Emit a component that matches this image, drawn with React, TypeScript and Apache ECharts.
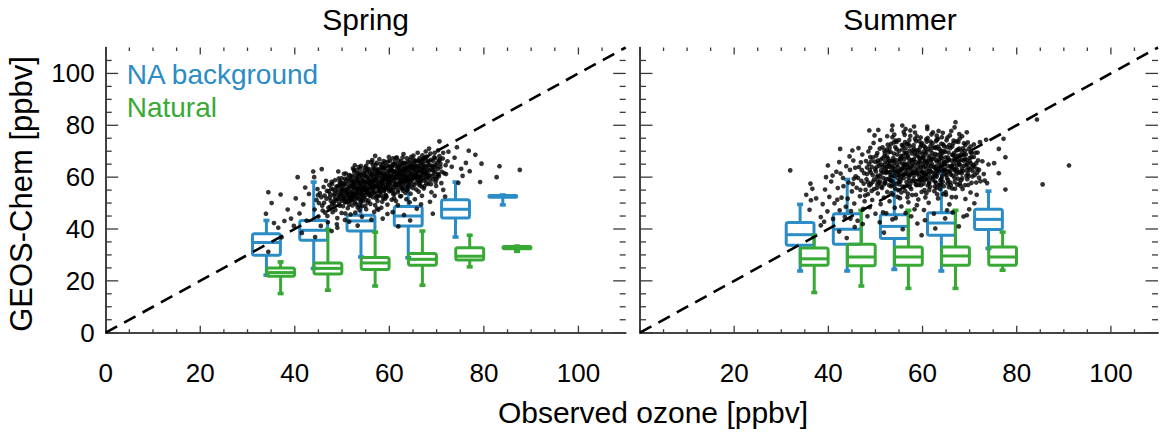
import React, { useEffect, useRef } from "react";
import * as echarts from "echarts";

const FONT = "'Liberation Sans', Arial, Helvetica, sans-serif";
const BLUE = "#2b8cc6";
const GREEN = "#39a935";
const AXIS_COLOR = "#3a3a3a";

const panelTitles = ["Spring", "Summer"];
const legendLabels = ["NA background", "Natural"];
const xAxisTitle = "Observed ozone [ppbv]";
const yAxisTitle = "GEOS-Chem [ppbv]";
const axisMin = 0;
const axisMax = 110;
const majorStep = 20;
const majorTicks = [0, 20, 40, 60, 80, 100];
const minorTicks = [5, 10, 15, 25, 30, 35, 45, 50, 55, 65, 70, 75, 85, 90, 95, 105];

const oneToOne = [[0, 0], [110, 110]];

// box rows: [observed bin centre, lower whisker, q1, median, q3, upper whisker]
const springBackground = [
  [34, 22.2, 29.9, 34.8, 38.2, 43.3],
  [44, 24.8, 35.7, 39.5, 43.3, 58.1],
  [54, 29.2, 39.2, 43.1, 45.3, 58.1],
  [64, 28.9, 41.2, 45.0, 48.7, 59.8],
  [74, 36.9, 44.2, 47.6, 51.3, 58.1],
  [84, 49.3, 52.2, 52.6, 52.9, 53.1],
];
const springNatural = [
  [37, 15.1, 21.8, 23.2, 25.0, 27.3],
  [47, 16.4, 22.6, 24.8, 26.9, 39.8],
  [57, 18.0, 24.4, 26.9, 29.0, 38.8],
  [67, 18.3, 26.0, 28.3, 30.5, 39.2],
  [77, 25.4, 28.0, 29.5, 32.8, 37.6],
  [87, 31.4, 32.4, 32.8, 33.2, 33.4],
];
const summerBackground = [
  [34, 23.8, 33.7, 37.8, 42.5, 49.5],
  [44, 23.8, 34.1, 39.9, 45.9, 59.1],
  [54, 24.4, 36.3, 41.0, 45.5, 61.9],
  [64, 23.8, 37.6, 42.3, 46.3, 62.2],
  [74, 32.5, 39.8, 43.7, 47.6, 54.6],
];
const summerNatural = [
  [37, 15.5, 26.0, 28.5, 32.7, 37.6],
  [47, 18.0, 25.8, 29.2, 34.1, 47.2],
  [57, 17.1, 26.0, 29.2, 33.1, 47.2],
  [67, 17.1, 26.0, 29.6, 33.1, 47.2],
  [77, 24.1, 26.0, 29.2, 33.1, 38.8],
];

const springPoints = [
  [34.4,54.2],[35.1,50],[37,53.3],[33.9,45.9],[35.6,42.3],[37.8,43.1],[34.4,31.2],[40.6,60],[43.9,62.2],[45.7,63.1],[44.1,60],[38.5,47.5],[39.2,44],[36.5,40.5],[41,46],[41.8,49.5],[40.2,51.8],[42.5,43.2],[43,53.5],[42.2,56],[39.8,41.2],[37.2,36.8],[41.5,38.5],
  [79.5,65.2],[83.3,64.2],[87.6,62.8],[82.7,60],[79.2,58.1],[74.3,71.5],[70.6,73.8],[76.2,65.5],[69.2,45.9],[77,62.3],[75.5,60.5],[73.8,67.5],[72.5,69.8],[78.2,68.6],[74.6,57.8],[71.8,52.5],[76.8,70.2],[73.2,64],[72,61.2],[75.2,63.2],
  [44.2,47.5],[44.6,51.2],[45,44.8],[45.3,53.8],[45.8,49],[46.1,56.2],[46.4,46.3],[46.7,51.7],[47,42.6],[47.2,54.5],[47.5,48.6],[47.8,58.2],[44.8,55.4],[45.5,41.2],[46.9,45],[47.6,50.9],[48,46.5],[45.1,50],[46.3,52.9],[47.3,57],
  [48.2,50.2],[48.4,53.6],[48.6,47.3],[48.8,56.4],[49,44.2],[49.1,51.8],[49.3,59.5],[49.5,49],[49.7,54.9],[49.9,46.2],[50.1,52.6],[50.3,57.7],[50.4,61.3],[50.6,43.5],[50.8,50.4],[51,55.3],[51.2,48],[51.4,53.2],[51.6,58.9],[51.8,45.6],[52,51.1],[52,56.6],[48.5,58.8],[49.2,62.2],[50.2,48.8],[51.5,60.8],[48.9,41.8],[50.7,46],[51.9,54],[49.6,56.9],[50.9,58.6],[48.1,55.2],[51.3,50.6],[49.8,53.5],[50.5,54.8],
  [52.2,49.1],[52.3,53.4],[52.5,58.2],[52.6,61.9],[52.8,46.3],[52.9,51.7],[53,55.6],[53.2,59.7],[53.3,48.3],[53.5,63.9],[53.6,53],[53.8,57.1],[53.9,50.4],[54,60.8],[54.2,44.7],[54.3,55],[54.5,58.7],[54.6,52.2],[54.8,62.5],[54.9,48.9],[55,56.3],[55.2,59.9],[55.3,54],[55.5,65.8],[55.6,51],[55.8,57.9],[55.9,61.6],[52.4,56],[53.1,62.6],[53.7,47.2],[54.4,50.7],[55.1,47.6],[55.7,53.9],[52.7,64.6],[54.7,56.2],[53.4,57.9],[54.1,53.6],[55.4,62.9],[52.1,60.3],[53.6,51.5],
  [56,49.7],[56.1,55.4],[56.3,58.8],[56.4,62.4],[56.5,52.3],[56.7,60.1],[56.8,46.6],[56.9,56.7],[57.1,64.7],[57.2,53.5],[57.3,59.3],[57.5,50.8],[57.6,61.9],[57.7,56],[57.9,66.9],[58,54.5],[58.1,58.2],[58.3,48.2],[58.4,63.4],[58.5,57.3],[58.7,51.9],[58.8,60.6],[58.9,55.5],[59.1,65.6],[59.2,53.1],[59.3,59.4],[59.5,62.2],[59.6,49.4],[59.7,57.6],[59.9,67.8],[60,54.6],[56.2,65.8],[57,68.2],[57.4,47.9],[58.2,61.2],[59,58.8],[59.8,60.7],[56.6,54.1],[57.8,52.7],[58.6,64.9],[59.4,56.2],[56.9,57.8],[58.3,55.9],[57.5,63],[59.1,51.7],
  [60.2,58.4],[60.3,62.9],[60.5,51.3],[60.6,60.1],[60.8,56.2],[60.9,65.1],[61.1,53.6],[61.2,59.2],[61.3,67.4],[61.5,57.5],[61.6,61.8],[61.8,49.2],[61.9,55],[62,63.5],[62.2,59.9],[62.3,52.6],[62.5,66.1],[62.6,57.9],[62.7,61],[62.9,54.8],[63,68.9],[63.2,60.3],[63.3,56.4],[63.5,63.8],[63.6,51.5],[63.8,58.7],[63.9,65.9],[60.4,54.7],[61,62.3],[61.7,64.9],[62.4,56.6],[63.1,62.4],[63.7,55.3],[60.7,67.2],[62.8,67.6],[61.4,50.8],[62.1,61.6],[63.4,59.5],
  [64.1,57.1],[64.2,61.9],[64.4,66.6],[64.5,53.6],[64.7,59.8],[64.8,63.5],[65,55.8],[65.1,68.3],[65.3,60.7],[65.4,51.5],[65.6,64.6],[65.7,57.9],[65.9,62.1],[66,69.4],[66.2,54.4],[66.3,60.2],[66.5,65.5],[66.6,58.1],[66.8,62.9],[66.9,52.8],[67.1,67],[67.2,60.9],[67.4,56.5],[67.5,64.2],[67.7,69.9],[67.8,59.3],[64.3,50.3],[65.2,66.7],[66.1,64.1],[67,63.7],[67.6,61.7],[64.9,61.2],[66.4,56.9],[65.8,59.6],
  [68,62.8],[68.2,57.4],[68.3,66.2],[68.5,60.6],[68.7,69.1],[68.9,54.2],[69.1,64.3],[69.3,59.1],[69.5,67.7],[69.7,62.1],[69.9,56.6],[70.1,65.5],[70.3,70.3],[70.5,60.4],[70.8,63.9],[71,57.7],[71.3,67.2],[71.6,61.5],[71.9,64.6],[68.6,50.5],[69.6,52.8],[70.6,68.1],[71.4,55.1],[68.4,71],[69.8,59.9],
  [44.3,36.9],[49,40.5],[53.3,41.3],[58.6,44],[57.7,47.4],[59.6,45.8],[61.9,41],[64.4,43.3],[65.8,47.8],[47.8,39.2],[51.5,42.8],[56.2,43.6],[60.7,46.5],[63.1,45.4],[66.7,49.5],
  [47.4,52.2],[47.7,55.6],[47.9,49.8],[48.3,52.9],[48.6,54.8],[48.7,50.9],[49,56.1],[49.2,53.1],[49.4,51.4],[49.5,58.2],[49.9,55.6],[50,50.9],[50.2,56.6],[50.4,52.1],[50.6,59.4],[50.8,53.8],[51,51.7],[51.1,57.4],[51.3,55.9],[51.5,49.4],[51.7,56.3],[51.8,52.4],[52,58.8],
  [52.1,54.7],[52.3,51.2],[52.4,57.4],[52.6,55.5],[52.8,60.4],[52.9,53.2],[53.1,56.4],[53.2,52.1],[53.4,59.1],[53.5,55.2],[53.7,61.5],[53.8,54.3],[54,57.6],[54.1,51.6],[54.3,59.8],[54.4,56.6],[54.6,54],[54.7,60.9],[54.9,57.8],[55,53.1],[55.2,58.3],[55.3,61.9],[55.5,55.6],[55.6,59.1],[55.8,52.9],[55.9,56.9],[52.5,62.8],[53.9,63.2],[55.1,64.4],[54.2,48.8],[53,49.6],[55.4,50.2],
  [56,57.2],[56.2,60.7],[56.3,53.8],[56.5,58.2],[56.6,63.5],[56.8,55.8],[56.9,61.4],[57.1,58.9],[57.2,51.9],[57.4,56.6],[57.5,60.4],[57.7,62.8],[57.8,57.6],[58,59.7],[58.1,54.3],[58.3,61.5],[58.4,58.4],[58.6,56.1],[58.7,62.9],[58.9,59.9],[59,54.9],[59.2,61.1],[59.3,57.1],[59.5,64.4],[59.6,59.1],[59.8,55.5],[59.9,62.6],[56.4,66.6],[57.3,65.5],[58.8,66.2],[59.4,52.4],[57,49.2],[58.5,50.5],
  [60,58.9],[60.2,61.5],[60.3,56.8],[60.5,63.7],[60.6,59.5],[60.8,62.2],[60.9,55.1],[61.1,60.8],[61.2,57.5],[61.4,64.2],[61.5,59.8],[61.7,62.9],[61.8,56.9],[62,60.7],[62.1,58.1],[62.3,64.9],[62.4,61.7],[62.6,55.9],[62.7,59.4],[62.9,63.1],[63,57.6],[63.2,65.5],[63.3,61.9],[63.5,58.2],[63.6,62.9],[63.8,60.3],[63.9,56.6],[60.1,66.2],[61.6,67.6],[62.5,52.7],[63.4,53.9],[61,51.9],
  [64,59.4],[64.2,63.7],[64.3,58.2],[64.5,61.2],[64.6,65.3],[64.8,57.3],[64.9,63.9],[65.1,59.5],[65.3,62.8],[65.4,66.2],[65.6,60.9],[65.7,55.2],[65.9,64.1],[66,58.9],[66.2,62.3],[66.4,67.3],[66.5,60.4],[66.7,64.6],[66.8,56.4],[67,61.6],[67.2,65.2],[67.3,58.7],[67.5,62.5],[67.7,66.4],[67.9,60.1],
  [68.1,61.2],[68.3,64.5],[68.6,58.9],[68.9,62.9],[69.2,66.3],[69.4,61.4],[69.7,64.8],[70,59.3],[70.3,63.2],[70.7,66.8],[71.1,62.1],
  [49.1,54.4],[49.3,56.8],[49.6,52.6],[49.8,57.9],[50.1,54.9],[50.3,51.5],[50.5,57.1],[50.7,55.2],[50.9,52.9],[51.2,59.6],[51.4,54.6],[51.6,52.3],[51.9,57.7],
  [52.2,56.9],[52.4,53.7],[52.6,59],[52.8,57.2],[53,54.2],[53.2,58.4],[53.4,55.3],[53.6,60.3],[53.8,56.3],[54,53.4],[54.2,58.9],[54.4,61.6],[54.6,55.4],[54.8,58.1],[55,60.5],[55.2,55.2],[55.4,57.4],[55.6,53.8],[55.8,60.2],[55.9,58.6],
  [56.1,57.9],[56.3,61.2],[56.5,55.3],[56.7,59.4],[56.9,63.1],[57.1,56.4],[57.3,60.9],[57.5,58.1],[57.7,54.8],[57.9,61.8],[58.1,56.7],[58.3,63.9],[58.5,59.8],[58.7,57.7],[58.9,61.4],[59.1,63.6],[59.3,55.9],[59.5,60.2],[59.7,58.5],[59.9,64.2],
  [60.1,60.3],[60.3,57.9],[60.5,62.5],[60.7,64.8],[60.9,58.6],[61.1,62],[61.3,60.1],[61.5,56.2],[61.7,61.1],[61.9,63.8],[62.1,59.3],[62.3,62.6],[62.5,58.6],[62.7,64.4],[62.9,60.6],[63.1,58.9],[63.3,63.4],[63.5,61.1],[63.7,65.1],[63.9,59.6],
  [64.1,62.7],[64.3,60.3],[64.5,64.4],[64.7,58.7],[64.9,62.4],[65.1,65.2],[65.3,59.9],[65.5,63.3],[65.7,61.4],[65.9,66.3],[66.1,60.1],[66.3,63.3],[66.5,58.6],[66.7,62],[66.9,65.8],[67.1,59.8],[67.3,63.3],[67.5,67.4],[67.7,61.2],[67.9,64.1],
  [68.2,65.8],[68.5,62.6],[68.8,66.7],[69.1,60.4],[69.4,63.8],[69.7,67.3],[70,64.1],[70.4,61.2],[70.8,65.2],
  [48.5,51.6],[49.4,49.7],[50,53.7],[50.6,50.3],[51.1,53.9],[51.7,50.8],[52.2,52.3],[52.7,50.2],[53.1,53.8],[53.6,49],[54.1,55.1],[54.5,52.9],[55,51.4],[55.5,54.2],[56,52.8],[56.4,56.4],[56.9,54.3],[57.4,52.5],[57.8,55.2],[58.3,53],[58.8,54.6],[59.3,52.9],[59.8,56.9],[60.3,55.3],[60.8,53.5],[61.3,56.9],[61.8,54.2],[62.3,57.6],[62.8,55.5],[63.3,58.4],[63.8,54.9],[64.3,56.2],[64.8,59.3],[65.3,57],[65.8,60.3],[66.3,57.6],[66.8,59.2],[67.3,55.6],[67.8,57.7],[68.3,60.2],[68.8,57.3],[69.3,62.8],[69.8,58.1],[70.3,60.8],
  [49.9,59.6],[50.8,61.4],[51.8,60.5],[52.3,63.4],[53.3,61.3],[54,64.3],[54.9,63.7],[55.7,63.1],[56.5,64.9],[57.3,62.3],[58.1,65.1],[58.9,63.7],[59.7,66],[60.4,64.1],[61.2,65.8],[62,66.4],[62.9,65.3],[63.7,67.3],[64.6,67.8],[65.4,64.1],[66.2,66.3],[67,68.4],[67.9,67.9],[68.7,64.5],[69.6,69.4],[70.5,66.3],[71.4,69.4],[72.3,66.1],
  [46.2,50.1],[46.8,54.7],[47.1,48.2],[47.5,53.4],[47.9,57.4],[48.4,49],[45.6,52.3],[46.6,58.6],[45.9,47.1],[44.9,53],
];

const summerPoints = [
  [31.9,62.6],[91.1,64.5],[85.5,57.2],[84.3,82.2],[77.6,55.2],[76.2,61.5],[77.6,67.7],[76.2,70.9],[77.2,74.8],[75.2,65.4],[74,64.9],[73.2,58.7],[73.7,57.7],[69.4,45.3],[67.7,41],[59.8,37.6],[36.2,57.5],[36.6,55.5],[35.3,53.2],[36.3,51.1],[37.4,51.8],[36,47.4],[38.4,44.6],[38.4,41.4],[39.9,64.5],[39.5,60],[42.3,65.8],[42.5,70.9],[45.1,70.3],[45.4,59.4],[44.7,44],[43.9,36.5],[42.3,39],[48.7,78],[50.6,78.2],[53.6,79.9],[55.7,79.9],[58.2,79.5],[61,79.5],[63,76],[67,81.2],[66.8,79.2],[69.4,77.3],[72.2,73.5],[73.5,74.4],
  [38.8,49.6],[39.3,55.2],[39.8,46.8],[40.2,52.4],[40.6,58.3],[41,43.9],[41.3,49.9],[41.7,62.1],[42,55.8],[42.4,47.2],[42.8,52.1],[43.1,59.7],[43.5,44.6],[43.8,64.2],[43.2,56.5],[40.9,60.6],[41.9,51.3],[39.1,42.8],[42.6,61.4],[43.7,48.6],
  [44.1,51.7],[44.3,57.9],[44.6,62.8],[44.8,46.9],[45,54.5],[45.3,66.4],[45.5,49.8],[45.8,60.3],[46,55.9],[46.2,43.2],[46.5,63.9],[46.7,52.6],[47,58.6],[47.2,68.7],[47.4,47.8],[47.6,61.5],[47.9,55.1],[44.5,68],[45.6,40.8],[46.4,71.2],[47.7,50.7],[46.9,65.7],[45.2,57.4],
  [48.1,59.2],[48.2,63.7],[48.4,53.4],[48.5,69.9],[48.7,56.8],[48.8,48.4],[49,61.8],[49.1,66.1],[49.3,51.2],[49.4,58.1],[49.6,73.2],[49.7,55.4],[49.9,63],[50,45.9],[50.2,68.3],[50.3,60.2],[50.5,53.7],[50.6,65.4],[50.8,57.6],[50.9,71],[51.1,49.6],[51.2,62.6],[51.4,55.8],[51.5,67.3],[51.7,59.7],[51.8,52.1],[52,64.8],[48.3,44.9],[49.8,76.1],[51,74.3],[51.6,46.4],[48.9,67.8],[50.4,57.2],[49.2,54.7],[51.9,70.2],
  [52.1,57.8],[52.2,61.6],[52.4,67.9],[52.5,54.3],[52.6,72.5],[52.8,59.4],[52.9,64.1],[53,50.7],[53.2,69.8],[53.3,56.5],[53.4,62.8],[53.6,75.4],[53.7,53.2],[53.8,66.3],[54,60.5],[54.1,48.2],[54.2,71.6],[54.4,57.4],[54.5,64.8],[54.6,68.7],[54.8,55],[54.9,62.1],[55,74.3],[55.2,51.9],[55.3,59.1],[55.4,66.9],[55.6,63.3],[55.7,70.7],[55.8,56.3],[56,77.4],[52.3,46.1],[53.5,78.1],[54.3,44.2],[55.1,60.8],[52.7,65.6],[54.7,52.4],[53.9,73.4],[55.5,48.7],[52,69.1],[53.1,58.8],
  [56.1,60.9],[56.2,65.2],[56.3,54.7],[56.5,69.3],[56.6,58.1],[56.7,72.8],[56.9,62.7],[57,50.3],[57.1,67.1],[57.3,56.2],[57.4,75.9],[57.5,61.4],[57.7,64.3],[57.8,53.1],[57.9,70.4],[58.1,59.2],[58.2,66.8],[58.3,47.6],[58.5,63],[58.6,73.9],[58.7,56.9],[58.9,68.6],[59,61.3],[59.1,51.4],[59.3,65.7],[59.4,58.4],[59.5,71.5],[59.7,62.4],[59.8,54.3],[60,67.5],[56.4,78.6],[57.6,44.9],[58.4,77.2],[59.6,75.3],[56.8,52.2],[58.8,49.2],[57.2,70.1],[59.2,57],[56,63.8],[58,61.7],[59.9,60.1],[57.9,58.5],
  [60.1,63.9],[60.2,57.5],[60.4,70.2],[60.5,61],[60.6,66.3],[60.8,53.8],[60.9,73.7],[61.1,59.6],[61.2,64.7],[61.3,50.1],[61.5,68.2],[61.6,56.3],[61.8,62.2],[61.9,76.5],[62,66.9],[62.2,59],[62.3,71.3],[62.5,54.6],[62.6,63.6],[62.7,68.9],[62.9,57.7],[63,74.4],[63.2,61.4],[63.3,51.8],[63.5,66],[63.6,70.8],[63.8,58.8],[63.9,64.1],[60.3,47.3],[61,78.6],[62.4,45.9],[63.4,77.8],[61.7,72],[60.7,59.4],[62.8,61.8],[61.4,55],[63.7,55.4],[60,68.9],
  [64.1,67.4],[64.2,60.4],[64.4,72.6],[64.5,56.5],[64.7,64.9],[64.8,69.8],[65,53.2],[65.1,62.2],[65.3,75.3],[65.4,58.9],[65.6,66.7],[65.7,49.5],[65.9,71.2],[66,61],[66.2,64.4],[66.3,55.6],[66.5,68.5],[66.6,74.1],[66.8,59.7],[66.9,63.2],[67.1,52.3],[67.2,70.3],[67.4,57.1],[67.5,66],[67.7,61.8],[67.8,76.6],[64.3,77.1],[65.2,47.2],[66.1,77.8],[67,68.1],[64.6,62.7],[65.8,58],[67.6,73.6],[64.9,54.2],
  [68,64.6],[68.2,58.8],[68.3,69.9],[68.5,55.4],[68.6,62.4],[68.8,73.1],[69,67],[69.1,51.6],[69.3,60.5],[69.5,65.3],[69.7,57],[69.8,70.8],[70,62.9],[70.2,54.1],[70.4,67.7],[70.6,60.3],[70.8,64.7],[71,49.9],[71.2,69.4],[71.4,57.9],[71.6,63.1],[71.8,66.5],[72,59.8],[68.4,75.8],[69.9,47.6],[70.9,72.6],[71.5,53.2],
  [47.3,41.9],[50.9,42.6],[53.6,43.7],[56.4,46.2],[60.5,43.4],[62.7,40.2],[64.8,44.1],[66.4,46.4],[68.7,44.8],[55.8,39.9],[51.8,38.6],[58.9,42.1],
  [48.2,61.2],[48.4,58],[48.6,65.1],[48.8,62.7],[49,57.3],[49.2,64],[49.4,60.8],[49.5,67.6],[49.7,59.1],[49.9,65.9],[50.1,62.2],[50.3,55.8],[50.4,69.3],[50.6,60.6],[50.8,64.3],[51,58.3],[51.1,66.7],[51.3,61.4],[51.5,71.5],[51.6,63.9],[51.8,57.2],[51.9,68],
  [52.1,63.2],[52.3,59.2],[52.4,70.6],[52.6,61.9],[52.7,67.2],[52.9,56.9],[53,64.9],[53.2,60.7],[53.3,72.8],[53.5,66.2],[53.6,58.4],[53.8,63.7],[53.9,69.1],[54.1,61.9],[54.2,55.6],[54.4,66.5],[54.5,73.6],[54.7,59.7],[54.8,64],[55,70.1],[55.1,57.2],[55.3,62.6],[55.4,68.2],[55.6,60.3],[55.7,65.2],[55.9,72.2],[52.5,75.8],[54,76.4],[55.5,54.1],[53.4,53.9],
  [56,59.6],[56.1,66.9],[56.3,62.8],[56.4,71.1],[56.6,56.7],[56.7,64.7],[56.9,68.4],[57,59.9],[57.2,74.3],[57.3,63.7],[57.5,66.4],[57.6,55.4],[57.8,69.1],[57.9,61.9],[58.1,72.3],[58.2,64.5],[58.4,58.3],[58.5,68.2],[58.7,61.6],[58.8,75.8],[59,65],[59.1,70.4],[59.3,60.3],[59.4,67.2],[59.6,63.9],[59.7,56.9],[59.9,73.1],[56.2,76.3],[58.6,53.2],[57.4,78],[59.5,69.6],[56.8,61.2],
  [60,62.1],[60.2,67.5],[60.3,72],[60.5,58.8],[60.6,64.3],[60.8,69.6],[60.9,61.7],[61.1,75.1],[61.2,66.1],[61.4,57.6],[61.5,63.2],[61.7,70.3],[61.8,59.8],[62,65.1],[62.1,73.1],[62.3,61.6],[62.4,67.8],[62.6,56.4],[62.7,71.6],[62.9,64.2],[63,60.2],[63.2,68.5],[63.3,74.8],[63.5,62.7],[63.6,66.9],[63.8,57.2],[63.9,70.2],[60.4,55],[62.2,77.3],[63.1,53.4],[61.3,61.1],
  [64,63.8],[64.2,69.1],[64.3,58.2],[64.5,66],[64.6,71.9],[64.8,61.2],[64.9,67.6],[65.1,74.2],[65.2,59.6],[65.4,64.3],[65.5,69.5],[65.7,62.5],[65.8,76.1],[66,57],[66.1,66.4],[66.3,71.8],[66.4,60.6],[66.6,65.1],[66.7,69.3],[66.9,55.5],[67,62.4],[67.2,73.8],[67.3,64.5],[67.5,59.4],[67.6,68.3],[67.8,71],[64.4,53.4],[66.2,52.3],[67.9,57.6],
  [68.1,62.1],[68.3,66.8],[68.4,59.6],[68.6,71.1],[68.8,64.4],[69,56.9],[69.2,68.7],[69.4,62.7],[69.6,73.4],[69.8,60.4],[70,66.1],[70.2,69.6],[70.4,57.8],[70.6,63.7],[70.9,67.8],[71.1,60.8],[71.4,65.4],[71.7,69.5],[72,62.8],[72.3,58.4],[72.7,66.1],[73,61.2],
  [50.2,63.8],[50.5,66.4],[50.9,60.1],[51.3,64.9],[51.7,62.1],[52.1,66.1],[52.5,63.9],[52.8,69.6],[53.1,61.8],[53.5,64.2],[53.8,67.4],[54.1,63.1],[54.5,70.8],[54.8,60.9],[55.1,65.8],[55.5,62.9],[55.8,68.1],[56.1,64.6],[56.4,61.3],[56.7,67.8],[57,65.3],[57.3,71.9],[57.6,63.1],[57.9,66.7],[58.2,60.6],[58.5,65.8],[58.8,70.2],[59.1,63.6],[59.4,66.1],[59.7,72.5],[60,64.8],[60.3,61.5],[60.6,68.7],[60.9,65.6],[61.2,70.9],[61.5,62.2],[61.8,66.5],[62.1,69.2],[62.4,63.9],[62.7,60.5],[63,66],[63.3,71.8],[63.6,64.7],[63.9,67.8],[64.2,62.3],[64.5,70.1],[64.8,65.7],[65.1,60.8],[65.4,67.6],[65.7,72.4],[66,64.1],[66.3,68.6],[66.6,62.9],[66.9,66.4],[67.2,61.2],[67.5,70.6],[67.8,65.1],[68.1,68.4],[68.4,63.2],[68.7,66.3],[69,70.1],[69.3,64.6],[69.6,61.4],[70,67.4],[70.3,65.2],[70.7,62.3],[55.3,58.3],[57.4,57.4],[59.6,58.8],[61.4,58.2],[63.5,56.9],[53.3,58.6],[65.6,56.1],[60.8,74.6],[58.4,74.8],[62.9,73.9],[56.3,73.5],[64.1,75.4],
  [52.3,62.3],[52.9,66.3],[53.4,60.2],[54,65.6],[54.6,62.4],[55.2,67.1],[55.8,61.2],[56.2,69.4],[56.8,63.8],[57.3,60.6],[57.8,65.6],[58.3,69.6],[58.8,62.4],[59.3,67.6],[59.8,61.7],[60.3,65.9],[60.8,63.1],[61.3,67.4],[61.8,64.3],[62.3,60.1],[62.8,66.8],[63.3,62.9],[63.8,69.1],[64.3,65.1],[64.8,63],[65.3,66.2],[65.8,61.9],[66.3,63.6],[66.8,67.1],[67.3,62.9],[67.8,66.3],[68.3,61.4],[68.8,68.6],[69.3,66.7],[69.8,63.6],[70.4,69.3],[71,64.1],[71.6,61.7],
  [53,71.3],[54.3,74.1],[55.6,72.4],[57,72.8],[58.2,70.9],[59.3,73.9],[60.6,71.4],[61.7,73.7],[62.9,71.2],[64,72.9],[65.2,71.5],[66.5,73],[67.9,74.9],[69.1,72.4],[70.2,71.8],
  [50.4,58.6],[51.2,56.3],[52,58.1],[53.6,56.9],[54.9,58.1],[56.1,56.2],[57.2,58.7],[58.6,57.3],[59.9,59],[61.1,56.8],[62.6,58.3],[64,59.4],[65.3,57.6],[66.8,58.1],[68.1,56.6],[69.5,59.2],[60.6,52.2],[63,55.9],[56.9,53.6],
  [46.3,59.7],[47.1,62.7],[47.5,57.5],[46.8,55.1],[48,66.2],[47.8,52.9],[45.7,63.6],[48.9,71.3],
];

const GRID_TOP = 47.5;
const GRID_H = 285.2;
const GRID_W = 520;
const LEFTS = [105.7, 640];

const tickData = majorTicks.map((v) => [v, 1]).concat(minorTicks.map((v) => [v, 0]));

function tickRenderer(params: any, api: any) {
  const v = api.value(0);
  const major = api.value(1) === 1;
  const b = api.coord([v, axisMin]);
  const t = api.coord([v, axisMax]);
  const l = api.coord([axisMin, v]);
  const r = api.coord([axisMax, v]);
  const lx = major ? 7 : 3.5;
  const ly = major ? 12.5 : 6;
  const st = { stroke: AXIS_COLOR, lineWidth: 1.3 };
  return {
    type: "group",
    children: [
      { type: "line", shape: { x1: b[0], y1: b[1], x2: b[0], y2: b[1] - lx }, style: st },
      { type: "line", shape: { x1: t[0], y1: t[1], x2: t[0], y2: t[1] + lx }, style: st },
      { type: "line", shape: { x1: l[0], y1: l[1], x2: l[0] + ly, y2: l[1] }, style: st },
      { type: "line", shape: { x1: r[0], y1: r[1], x2: r[0] - ly, y2: r[1] }, style: st },
    ],
  };
}

function boxRenderer(color: string) {
  return (params: any, api: any) => {
    const x = api.value(0);
    const lo = api.coord([x, api.value(1)]);
    const q1 = api.coord([x, api.value(2)]);
    const med = api.coord([x, api.value(3)]);
    const q3 = api.coord([x, api.value(4)]);
    const hi = api.coord([x, api.value(5)]);
    const hw = api.size([2.95, 0])[0];
    const cx = lo[0];
    const lw = 3;
    return {
      type: "group",
      children: [
        { type: "line", shape: { x1: cx, y1: q3[1], x2: cx, y2: hi[1] }, style: { stroke: color, lineWidth: lw } },
        { type: "line", shape: { x1: cx, y1: q1[1], x2: cx, y2: lo[1] }, style: { stroke: color, lineWidth: lw } },
        { type: "rect", shape: { x: cx - 3, y: hi[1] - 1.8, width: 6, height: 3.6 }, style: { fill: color } },
        { type: "rect", shape: { x: cx - 3, y: lo[1] - 1.8, width: 6, height: 3.6 }, style: { fill: color } },
        { type: "rect", shape: { x: cx - hw, y: q3[1], width: 2 * hw, height: Math.max(q1[1] - q3[1], 1), r: 2 }, style: { fill: "none", stroke: color, lineWidth: lw } },
        { type: "line", shape: { x1: cx - hw, y1: med[1], x2: cx + hw, y2: med[1] }, style: { stroke: color, lineWidth: lw } },
      ],
    };
  };
}

function xAxisDef(grid: number, pos: string, labels: boolean, showZero: boolean) {
  return {
    type: "value", gridIndex: grid, position: pos, min: axisMin, max: axisMax, interval: majorStep,
    axisLine: { show: true, lineStyle: { color: AXIS_COLOR, width: 1.6 } },
    axisTick: { show: false },
    axisLabel: {
      show: labels, margin: 27, fontSize: 26, color: "#000", fontFamily: FONT,
      formatter: (v: number) => (v === axisMax || (!showZero && v === 0) ? "" : String(v)),
    },
    splitLine: { show: false },
  };
}
function yAxisDef(grid: number, pos: string, labels: boolean) {
  return {
    type: "value", gridIndex: grid, position: pos, min: axisMin, max: axisMax, interval: majorStep,
    axisLine: { show: true, lineStyle: { color: AXIS_COLOR, width: 1.6 } },
    axisTick: { show: false },
    axisLabel: {
      show: labels, margin: 11, fontSize: 26, color: "#000", fontFamily: FONT,
      formatter: (v: number) => (v === axisMax ? "" : String(v)),
    },
    splitLine: { show: false },
  };
}

export default function App() {
  const ref = useRef<HTMLDivElement>(null);
  useEffect(() => {
    if (!ref.current) return;
    const chart = echarts.init(ref.current, null, { renderer: "svg" });
    const grids = [0, 1].map((i) => ({ left: LEFTS[i], top: GRID_TOP, width: GRID_W, height: GRID_H, containLabel: false }));
    const xAxes = [
      xAxisDef(0, "bottom", true, true),
      xAxisDef(0, "top", false, true),
      xAxisDef(1, "bottom", true, false),
      xAxisDef(1, "top", false, false),
    ];
    const yAxes = [
      yAxisDef(0, "left", true),
      yAxisDef(0, "right", false),
      yAxisDef(1, "left", false),
      yAxisDef(1, "right", false),
    ];
    const panelSeries = (points: number[][], bg: number[][], nat: number[][], xi: number, yi: number, name: string) => [
      {
        type: "scatter", name: name + " model", xAxisIndex: xi, yAxisIndex: yi, data: points,
        symbol: "circle", symbolSize: 4.7, itemStyle: { color: "#000" }, silent: true,
      },
      {
        type: "line", name: name + " 1:1", xAxisIndex: xi, yAxisIndex: yi, data: oneToOne,
        showSymbol: false, symbol: "none", clip: true, silent: true,
        lineStyle: { color: "#000", width: 2.6, type: [13, 8] },
      },
      {
        type: "custom", name: name + " " + legendLabels[0], xAxisIndex: xi, yAxisIndex: yi, data: bg,
        renderItem: boxRenderer(BLUE), encode: { x: 0, y: [1, 2, 3, 4, 5] }, silent: true,
      },
      {
        type: "custom", name: name + " " + legendLabels[1], xAxisIndex: xi, yAxisIndex: yi, data: nat,
        renderItem: boxRenderer(GREEN), encode: { x: 0, y: [1, 2, 3, 4, 5] }, silent: true,
      },
      {
        type: "custom", name: name + " ticks", xAxisIndex: xi, yAxisIndex: yi, data: tickData,
        renderItem: tickRenderer, encode: { x: 0 }, clip: false, silent: true,
      },
    ];
    const textStyle = (size: number, color = "#000") => ({ fontSize: size, fontFamily: FONT, fill: color });
    chart.setOption({
      animation: false,
      backgroundColor: "#fff",
      grid: grids,
      xAxis: xAxes,
      yAxis: yAxes,
      series: [
        ...panelSeries(springPoints, springBackground, springNatural, 0, 0, panelTitles[0]),
        ...panelSeries(summerPoints, summerBackground, summerNatural, 2, 2, panelTitles[1]),
      ],
      graphic: [
        { type: "text", x: LEFTS[0] + GRID_W / 2, y: 19.5, style: { ...textStyle(30), text: panelTitles[0], textAlign: "center", textVerticalAlign: "middle" } },
        { type: "text", x: LEFTS[1] + GRID_W / 2, y: 19.5, style: { ...textStyle(30), text: panelTitles[1], textAlign: "center", textVerticalAlign: "middle" } },
        { type: "text", x: 126.7, y: 74.5, style: { ...textStyle(28, BLUE), text: legendLabels[0], textAlign: "left", textVerticalAlign: "middle" } },
        { type: "text", x: 126.7, y: 107.5, style: { ...textStyle(28, GREEN), text: legendLabels[1], textAlign: "left", textVerticalAlign: "middle" } },
        { type: "text", x: 653, y: 412.5, style: { ...textStyle(30), text: xAxisTitle, textAlign: "center", textVerticalAlign: "middle" } },
        { type: "text", x: 21.5, y: 194, rotation: Math.PI / 2, style: { ...textStyle(31), text: yAxisTitle, textAlign: "center", textVerticalAlign: "middle" } },
      ],
    });
    return () => chart.dispose();
  }, []);
  return <div ref={ref} style={{ position: "absolute", left: 0, top: 0, width: 1161, height: 434 }} />;
}
